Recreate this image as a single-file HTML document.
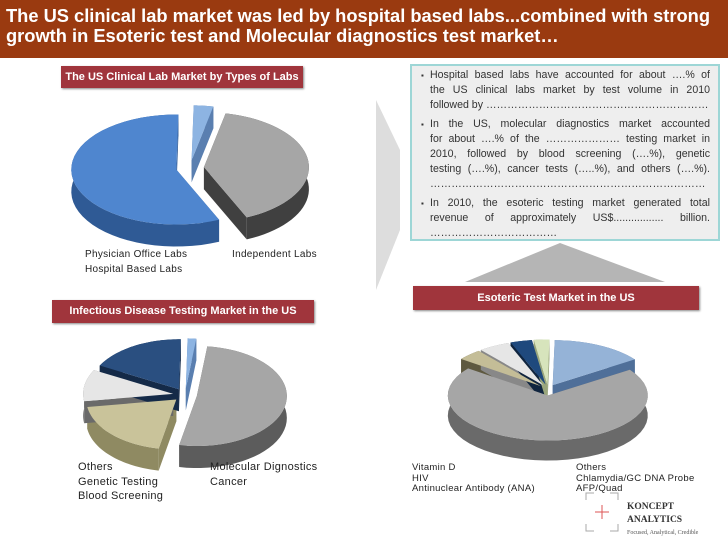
<!DOCTYPE html>
<html><head><meta charset="utf-8">
<style>
body{margin:0;width:728px;height:546px;overflow:hidden;background:#fff;font-family:"Liberation Sans",sans-serif;}
#hdr{position:absolute;left:0;top:0;width:728px;height:58px;background:#9a3a10;color:#fff;font-weight:bold;font-size:18.3px;line-height:20px;padding:6px 0 0 6px;box-sizing:border-box;white-space:nowrap;}
.tbox{position:absolute;background:#a0353c;color:#fff;font-weight:bold;font-size:11px;text-align:center;box-shadow:1px 1px 2px #888;}
#txt{position:absolute;left:410px;top:64px;width:310px;height:177px;background:#eeeeee;border:2px solid #9dd6d6;box-sizing:border-box;font-size:10.6px;line-height:15px;color:#333;padding:2px 8px 0 8px;overflow:hidden;}
#txt .l{text-align:justify;text-align-last:justify;padding-left:10px;white-space:nowrap;}
#txt .l.s{text-align-last:left;}
#txt .b{position:relative;}
#txt .b::before{content:"▪";position:absolute;left:1px;font-size:8px;}
#txt .gap{height:4px;}
.lg{position:absolute;font-size:10px;color:#222;line-height:14.5px;letter-spacing:0.3px;}
</style></head><body>
<div id="hdr">The US clinical lab market was led by hospital based labs...combined with strong<br>growth in Esoteric test and Molecular diagnostics test market…</div>
<div class="tbox" style="left:61px;top:66px;width:242px;height:22px;line-height:22px;">The US Clinical Lab Market by Types of Labs</div>
<div class="tbox" style="left:52px;top:300px;width:262px;height:23px;line-height:23px;">Infectious Disease Testing Market in the US</div>
<div class="tbox" style="left:413px;top:286px;width:286px;height:24px;line-height:24px;">Esoteric Test Market in the US</div>
<div id="txt">
<div class="l b">Hospital based labs have accounted for about ….% of</div>
<div class="l">the US clinical labs market by test volume in 2010</div>
<div class="l s">followed by ………………………………………………………</div>
<div class="gap"></div>
<div class="l b">In the US, molecular diagnostics market accounted</div>
<div class="l">for about ….% of the ………………… testing market in</div>
<div class="l">2010, followed by blood screening (….%), genetic</div>
<div class="l">testing (….%), cancer tests (…..%), and others (….%).</div>
<div class="l s">……………………………………………………………………</div>
<div class="gap"></div>
<div class="l b">In 2010, the esoteric testing market generated total</div>
<div class="l">revenue of approximately US$................. billion.</div>
<div class="l s">………………………………</div>
</div>
<svg width="728" height="546" style="position:absolute;left:0;top:0" id="svg">
<polygon points="376,100 400,150 400,230 376,290" fill="#ddd"/>
<polygon points="465,282 560,243 665,282" fill="#b5b5b5"/>
<g>
<path d="M586 500v-7h8M610 493h8v7M586 524v7h8M610 531h8v-7" stroke="#aaa" fill="none"/>
<line x1="595" y1="512" x2="609" y2="512" stroke="#d55"/><line x1="602" y1="505" x2="602" y2="519" stroke="#d55"/>
<text x="627" y="509" font-family="Liberation Serif" font-weight="bold" font-size="9.5" fill="#333">KONCEPT</text>
<text x="627" y="522" font-family="Liberation Serif" font-weight="bold" font-size="9.5" fill="#333">ANALYTICS</text>
<text x="627" y="534" font-family="Liberation Serif" font-size="6" fill="#555">Focused, Analytical, Credible</text>
</g>
</svg>
<div class="lg" style="left:85px;top:248px">Physician Office Labs<br>Hospital Based Labs</div>
<div class="lg" style="left:232px;top:248px">Independent Labs</div>
<div class="lg" style="left:78px;top:460px;font-size:11px">Others<br>Genetic Testing<br>Blood Screening</div>
<div class="lg" style="left:210px;top:460px;font-size:11px">Molecular Dignostics<br>Cancer</div>
<div class="lg" style="left:412px;top:463px;line-height:10.5px;font-size:9.5px">Vitamin D<br>HIV<br>Antinuclear Antibody (ANA)</div>
<div class="lg" style="left:576px;top:463px;line-height:10.5px;font-size:9.5px">Others<br>Chlamydia/GC DNA Probe<br>AFP/Quad</div>
<script>
const labCategories=["Physician Office Labs","Independent Labs","Hospital Based Labs"];
const labValues=[3,40,57];
const infCategories=["Molecular Dignostics","Cancer","Blood Screening","Genetic Testing","Others"];
const infValues=[1.5,50,19,10,17];
const esoCategories=["Vitamin D","Others","HIV","Chlamydia/GC DNA Probe","Antinuclear Antibody (ANA)","AFP/Quad"];
const esoValues=[15,70,4,5,3.5,2.5];

const svg=document.getElementById('svg');
const NS='http://www.w3.org/2000/svg';
function pt(cx,cy,rx,ry,a){return [cx+rx*Math.sin(a),cy-ry*Math.cos(a)];}
function pie(name,vals,cats,cfg){
  const g=document.createElementNS(NS,'g');
  
  
  svg.appendChild(g);
  const tot=vals.reduce((a,b)=>a+b,0);
  let a0=cfg.start||0;const sl=[];
  vals.forEach((v,i)=>{const a1=a0+v/tot*2*Math.PI;const m=(a0+a1)/2;
    const ex=cfg.explode;const cx=cfg.cx+ex*Math.sin(m),cy=cfg.cy-ex*0.55*Math.cos(m);
    sl.push({a0,a1,cx,cy,i});a0=a1;});
  const sides=document.createElementNS(NS,'g');g.appendChild(sides);
  const tops=document.createElementNS(NS,'g');g.appendChild(tops);
  sl.forEach(s=>{
    const {a0,a1,cx,cy,i}=s,rx=cfg.rx,ry=cfg.ry,d=cfg.depth;
    const n=40,top=[],bot=[];
    for(let k=0;k<=n;k++){const a=a0+(a1-a0)*k/n;const p=pt(cx,cy,rx,ry,a);top.push(p);bot.push([p[0],p[1]+d]);}
    [a0,a1].forEach(a=>{const p=pt(cx,cy,rx,ry,a);
      const f=document.createElementNS(NS,'polygon');
      f.setAttribute('points',`${cx},${cy} ${p[0]},${p[1]} ${p[0]},${p[1]+d} ${cx},${cy+d}`);
      f.setAttribute('fill',cfg.dark[i]);
      
      
      sides.appendChild(f);});
    const rim=document.createElementNS(NS,'polygon');
    rim.setAttribute('points',top.concat(bot.slice().reverse()).map(p=>p.join(',')).join(' '));
    rim.setAttribute('fill',cfg.dark[i]);
    
    
    sides.appendChild(rim);
    const t=document.createElementNS(NS,'polygon');
    t.setAttribute('points',[[cx,cy]].concat(top).map(p=>p.join(',')).join(' '));
    t.setAttribute('fill',cfg.col[i]);
    
    
    tops.appendChild(t);
  });
}
pie('lab-types-pie',labValues,labCategories,{cx:190,cy:168,rx:105,ry:55,depth:22,explode:14,start:0.02,
  col:['#8db4e2','#a6a6a6','#4f86cf'],dark:['#5a7fb0','#404040','#2f5a95']});
pie('infectious-pie',infValues,infCategories,{cx:185,cy:395,rx:90,ry:50,depth:22,explode:12,start:0.02,
  col:['#8db4e2','#a6a6a6','#c9c39a','#e6e6e6','#2a4f80'],dark:['#5a7fb0','#5c5c5c','#8f8a62','#6a6a6a','#142a48']});
pie('esoteric-pie',esoValues,esoCategories,{cx:548,cy:390,rx:100,ry:45,depth:20,explode:10,start:0.02,
  col:['#95b3d7','#a6a6a6','#c4bd97','#e6e6e6','#1f497d','#d7e4bc'],dark:['#4f6f99','#6a6a6a','#5e5940','#888','#10253f','#9aa67c']});
</script>
</body></html>
